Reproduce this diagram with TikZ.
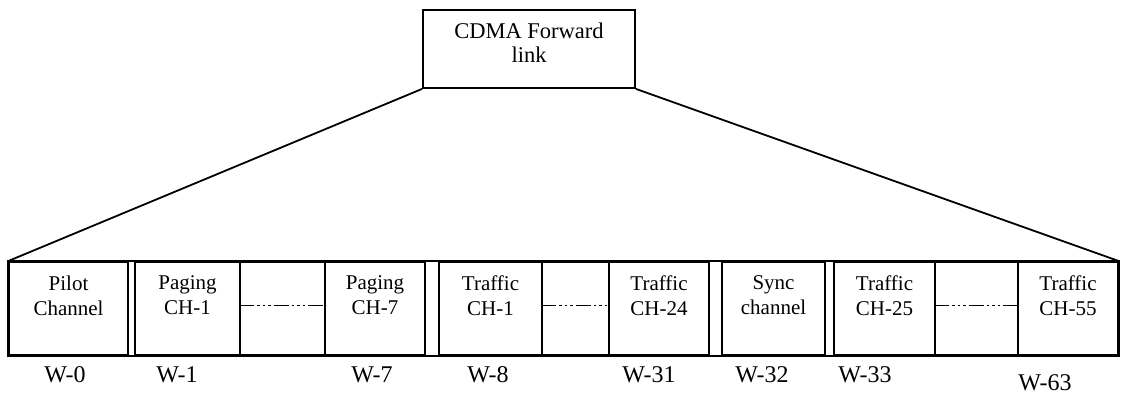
\documentclass[tikz,border=0pt]{standalone}
\usepackage{fontspec}
\setmainfont{Liberation Serif}

\begin{document}
\begin{tikzpicture}[x=1pt, y=-1pt, line width=1.8pt,
    cell/.style={draw, inner sep=0pt, minimum height=93pt},
    txt/.style={align=center, inner sep=0pt, font=\fontsize{21}{25}\selectfont},
    wlbl/.style={inner sep=0pt, font=\fontsize{24}{28}\selectfont},
    dotline/.style={dash pattern=on 15pt off 3pt on 2.5pt off 3pt on 2.5pt off 3pt on 2.5pt off 3pt}]
    \useasboundingbox (0,0) rectangle (1122,397);
    % top box
    \node[draw, inner sep=0pt, minimum width=212pt, minimum height=78pt] (fwd) at (529,49) {};
    \node[txt, font=\fontsize{22.5}{24}\selectfont] (fwdT) at ([yshift=6pt]fwd.center) {CDMA Forward\\link};
    % channel row
    \node[cell, minimum width=119pt] (pilot) at (68.5,308.5) {};
    \node[cell, minimum width=105pt] (pag1) at (187.5,308.5) {};
    \node[cell, minimum width=85pt] (dotsA) at (282.5,308.5) {};
    \node[cell, minimum width=100pt] (pag7) at (375,308.5) {};
    \node[cell, minimum width=103pt] (trf1) at (490.5,308.5) {};
    \node[cell, minimum width=67pt] (dotsB) at (575.5,308.5) {};
    \node[cell, minimum width=100pt] (trf24) at (659,308.5) {};
    \node[cell, minimum width=103pt] (sync) at (773.5,308.5) {};
    \node[cell, minimum width=101pt] (trf25) at (884.5,308.5) {};
    \node[cell, minimum width=83pt] (dotsC) at (976.5,308.5) {};
    \node[cell, minimum width=100pt] (trf55) at (1068,308.5) {};
    \draw (pilot.north west) rectangle (trf55.south east);
    % cell texts
    \node[txt] (pilotT) at ([yshift=13pt]pilot.center) {Pilot\\Channel};
    \node[txt] (pag1T) at ([yshift=13pt]pag1.center) {Paging\\CH-1};
    \node[txt] (pag7T) at ([yshift=13pt]pag7.center) {Paging\\CH-7};
    \node[txt] (trf1T) at ([yshift=13pt]trf1.center) {Traffic\\CH-1};
    \node[txt] (trf24T) at ([yshift=13pt]trf24.center) {Traffic\\CH-24};
    \node[txt] (syncT) at ([yshift=13pt]sync.center) {Sync\\channel};
    \node[txt] (trf25T) at ([yshift=13pt]trf25.center) {Traffic\\CH-25};
    \node[txt] (trf55T) at ([yshift=13pt]trf55.center) {Traffic\\CH-55};
    % gaps between channels
    \draw[dotline] ([yshift=3pt]dotsA.west) -- ([yshift=3pt]dotsA.east);
    \draw[dotline] ([yshift=3pt]dotsB.west) -- ([yshift=3pt]dotsB.east);
    \draw[dotline] ([yshift=3pt]dotsC.west) -- ([yshift=3pt]dotsC.east);
    % fan out
    \draw (fwd.south west) -- (pilot.north west);
    \draw (fwd.south east) -- (trf55.north east);
    % walsh codes
    \node[wlbl] (w0) at (65,375) {W-0};
    \node[wlbl] (w1) at (177,375) {W-1};
    \node[wlbl] (w7) at (372,375) {W-7};
    \node[wlbl] (w8) at (488,375) {W-8};
    \node[wlbl] (w31) at (649,375) {W-31};
    \node[wlbl] (w32) at (762,375) {W-32};
    \node[wlbl] (w33) at (865,375) {W-33};
    \node[wlbl] (w63) at (1045,383) {W-63};
\end{tikzpicture}
\end{document}
